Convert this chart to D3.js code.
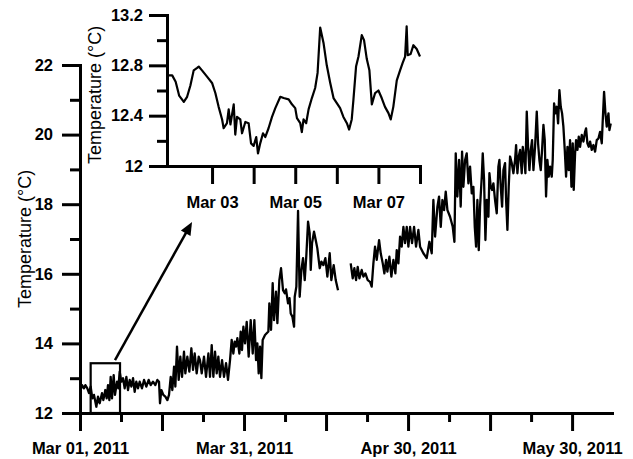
<!DOCTYPE html>
<html>
<head>
<meta charset="utf-8">
<script src="https://cdn.jsdelivr.net/npm/d3@7"></script>
<style>
  html, body { margin: 0; padding: 0; background: #fff; }
  svg { display: block; }
</style>
</head>
<body>
<svg id="chart" width="633" height="459"></svg>
<script>
// Logged water temperature, 1 March to early June 2011.
const startDate = "2011-03-01T00:00:00Z";

// Main record: days since the start and temperature (°C); null marks the logger gap.
const mainDays = [
  0.12, 0.37, 0.73, 0.98, 1.34, 1.65, 1.95, 2.26, 2.56, 2.99,
  3.29, 3.60, 4.02, 4.27, 4.63, 4.88, 5.12, 5.37, 5.61, 5.85,
  6.16, 6.40, 6.77, 7.01, 7.26, 7.56, 7.87, 8.17, 8.48, 8.78,
  9.09, 9.39, 9.70, 10.00, 10.30, 10.61, 10.91, 11.34, 11.71, 12.13,
  12.56, 12.93, 13.35, 13.78, 14.15, 14.45, 14.63, 14.88, 15.24, 15.61,
  15.98, 16.28, 16.59, 16.89, 17.20, 17.44, 17.74, 18.05, 18.35, 18.66,
  19.02, 19.27, 19.63, 20.00, 20.37, 20.67, 20.98, 21.34, 21.71,
  21.95, 22.26, 22.68, 23.05, 23.48, 23.78, 24.09, 24.39, 24.70, 25.00,
  25.30, 25.61, 25.98, 26.34, 26.71, 27.07, 27.44, 27.74, 28.05, 28.29,
  28.54, 28.78, 29.15, 29.39, 29.63, 29.88, 30.18, 30.49, 30.85, 31.22,
  31.59, 31.89, 32.20, 32.44, 32.68, 32.93, 33.17, 33.41, 33.84, 34.45,
  34.63, 34.94, 35.24, 35.49, 35.85, 36.10, 36.46, 36.77, 37.13, 37.45,
  37.68, 38.05, 38.32, 38.54, 38.84, 39.15, 39.27, 39.57, 39.88, 40.18,
  40.49, 40.79, 41.10, 41.40, 41.71, 42.01, 42.20, 42.44, 42.80, 43.11,
  43.41, 43.84, 44.15, 44.51, 44.88, 45.24, 45.67, 45.97, 46.40, 46.77,
  47.19,
  48.30,
  49.51, 49.88, 50.18, 50.49, 50.79, 51.10, 51.52, 51.83, 52.20, 52.62,
  53.05, 53.35, 53.66, 53.96, 54.27, 54.70, 55.00, 55.37, 55.67, 55.98,
  56.22, 56.59, 56.95, 57.32, 57.68, 57.93, 58.23, 58.54, 58.84, 59.15,
  59.45, 59.76, 60.06, 60.37, 60.73, 61.10, 61.46, 61.89,
  62.20, 62.80, 63.41, 63.90, 64.33, 64.63, 64.94, 65.37, 65.67, 65.98,
  66.28, 66.59, 66.89, 67.20, 67.68, 68.17, 68.48, 68.72, 69.02, 69.33,
  69.63, 69.88, 70.12, 70.43, 70.73, 71.04, 71.34, 71.65, 71.95, 72.20,
  72.44, 72.68, 72.93, 73.17, 73.48, 73.66, 73.90, 74.15, 74.39, 74.70,
  74.88, 75.12, 75.37, 75.61, 75.91, 76.22, 76.52, 76.71, 76.95, 77.20,
  77.44, 77.74, 77.93, 78.17, 78.41, 78.66, 78.96, 79.27, 79.57, 79.76,
  80.00, 80.24, 80.49, 80.79, 80.98, 81.22, 81.46, 81.71, 81.95, 82.20,
  82.44, 82.68, 82.93, 83.23, 83.54, 83.78, 84.02, 84.27, 84.51, 84.76,
  85.00, 85.24, 85.49, 85.73, 85.98, 86.28, 86.46, 86.71, 86.95, 87.20,
  87.44, 87.68, 87.93, 88.17, 88.41, 88.66, 88.90, 89.15, 89.39, 89.63,
  89.88, 90.12, 90.30, 90.55, 90.73, 90.98, 91.22, 91.46, 91.77, 92.07,
  92.38, 92.56, 92.80, 93.05, 93.29, 93.60, 93.90, 94.21, 94.51, 94.82,
  95.12, 95.43, 95.61, 95.85, 96.10, 96.34, 96.65, 96.83, 97.07
];
const mainTemps = [
  12.66, 12.80, 12.71, 12.80, 12.71, 12.57, 12.76, 12.42, 12.52, 12.18,
  12.47, 12.28, 12.57, 12.37, 12.66, 12.42, 12.80, 12.37, 13.04, 12.42,
  13.09, 12.52, 12.90, 12.71, 13.19, 12.90, 13.00, 12.71, 13.04, 12.66,
  12.95, 12.76, 13.00, 12.61, 12.90, 12.71, 12.90, 12.71, 12.95, 12.76,
  12.95, 12.80, 12.90, 12.80, 12.95, 12.90, 12.28, 12.66, 12.52, 12.47,
  12.37, 12.52, 13.04, 12.66, 13.33, 12.76, 13.91, 12.95, 13.62, 13.04,
  13.76, 13.14, 13.62, 13.19, 13.86, 13.24, 13.71, 13.14, 13.62,
  13.52, 13.14, 13.62, 13.04, 13.71, 13.04, 13.95, 13.04, 13.76, 13.14,
  13.62, 13.04, 13.52, 13.04, 13.43, 12.95, 13.52, 14.10, 13.71, 14.05,
  13.91, 14.15, 13.71, 14.34, 13.81, 14.48, 14.00, 14.62, 13.62, 14.67,
  13.71, 14.67, 13.52, 14.00, 13.14, 13.91, 13.00, 14.10, 14.24, 14.34,
  15.15, 14.39, 15.73, 14.67, 15.49, 14.58, 15.82, 16.16, 15.53, 15.44,
  15.55, 15.15, 15.30, 14.86, 14.77, 14.48, 15.34, 15.63, 17.81, 15.34,
  16.11, 16.45, 15.82, 16.54, 17.50, 17.16, 16.11, 16.88, 17.21, 16.97,
  16.73, 16.16, 16.35, 16.25, 16.45, 15.92, 16.59, 15.82, 16.25, 15.82,
  15.53,
  null,
  16.30, 15.87, 16.16, 15.82, 16.20, 15.87, 16.11, 15.92, 16.01, 15.82,
  15.77, 15.63, 16.30, 16.78, 16.40, 16.97, 16.59, 16.30, 16.01, 16.40,
  16.06, 16.49, 15.92, 16.40, 16.01, 16.68, 16.30, 17.07, 16.78, 17.35,
  16.88, 17.35, 16.78, 17.35, 16.88, 17.35, 16.78, 17.26,
  16.78, 16.59, 16.45, 16.92, 16.59, 18.12, 17.07, 17.93, 18.22, 17.35,
  18.12, 17.83, 18.36, 17.83, 17.64, 17.35, 16.92, 19.46, 18.22, 19.27,
  17.93, 19.51, 18.50, 19.27, 19.46, 18.60, 19.08, 18.31, 18.50, 17.35,
  16.78, 18.12, 16.68, 17.93, 18.79, 19.46, 18.70, 16.97, 18.12, 17.64,
  18.89, 18.50, 18.41, 18.60, 18.12, 17.74, 19.08, 19.27, 18.50, 17.93,
  18.98, 19.18, 18.12, 17.26, 18.50, 19.37, 19.18, 18.89, 19.27, 19.70,
  18.89, 19.37, 19.56, 18.89, 19.65, 19.37, 18.89, 20.66, 19.65, 18.98,
  19.56, 19.84, 18.98, 19.65, 20.66, 19.75, 19.27, 18.98, 19.56, 20.28,
  19.84, 18.22, 19.27, 18.79, 19.08, 18.79, 19.27, 20.90, 20.61, 20.80,
  20.32, 21.28, 20.80, 20.61, 20.23, 19.56, 18.79, 19.65, 18.98, 19.84,
  18.50, 19.75, 18.41, 19.46, 19.84, 19.56, 19.94, 19.65, 19.99, 19.80,
  20.08, 20.18, 19.75, 19.65, 19.80, 19.56, 19.70, 19.51, 19.84, 19.89,
  20.08, 19.75, 20.42, 21.23, 20.61, 20.23, 20.61, 20.13, 20.32
];

// Close-up of the first week: hours since the start and temperature (°C).
const insetHours = [
  22.0, 25.0, 27.0, 29.0, 31.7, 33.6, 35.5, 37.4, 39.4, 40.3,
  42.2, 45.1, 48.0, 49.9, 51.8, 53.8, 54.7, 56.6, 57.6, 58.6,
  60.5, 61.4, 62.4, 64.3, 65.3, 67.2, 69.1, 70.5, 72.0, 73.5,
  74.5, 75.8, 77.4, 78.7, 80.6, 82.6, 84.5, 87.4, 89.3, 92.2,
  94.1, 96.0, 97.0, 98.9, 99.8, 100.8, 102.3, 103.7, 105.6, 107.5,
  108.9, 110.4, 112.3, 114.2, 116.2, 118.1, 120.0, 121.9, 123.8, 125.8,
  127.1, 128.6, 129.6, 131.1, 132.5, 134.4, 135.7, 137.3, 138.8, 140.2,
  142.1, 144.0, 145.9, 147.8, 149.8, 151.1, 152.6, 154.6, 156.5, 158.0,
  159.4, 160.3, 160.9, 162.6, 164.2, 166.1, 168.0
];
const insetTemps = [
  12.72, 12.72, 12.67, 12.56, 12.51, 12.55, 12.64, 12.76, 12.78, 12.79,
  12.76, 12.71, 12.66, 12.58, 12.47, 12.37, 12.30, 12.34, 12.45, 12.33,
  12.49, 12.25, 12.39, 12.37, 12.26, 12.35, 12.34, 12.18, 12.16, 12.23,
  12.10, 12.18, 12.26, 12.23, 12.30, 12.39, 12.46, 12.55, 12.54, 12.53,
  12.49, 12.46, 12.38, 12.34, 12.27, 12.37, 12.34, 12.45, 12.54, 12.62,
  12.74, 13.10, 12.98, 12.80, 12.66, 12.54, 12.50, 12.46, 12.39, 12.34,
  12.29, 12.37, 12.53, 12.79, 12.87, 13.04, 13.00, 12.85, 12.76, 12.49,
  12.58, 12.60, 12.54, 12.47, 12.42, 12.37, 12.47, 12.68, 12.76, 12.82,
  12.87, 13.11, 12.88, 12.89, 12.96, 12.93, 12.87
];

// Axis ticks
const mainYTicks = [12, 14, 16, 18, 20, 22];
const mainYMinorTicks = [13, 15, 17, 19, 21];
const mainXTickDays = [0, 15, 30, 45, 60, 75, 90];
const mainXMinorDays = [7.5, 22.5, 37.5, 52.5, 67.5, 82.5];
const mainXLabelDays = [0, 30, 60, 90];
const mainXEndDay = 97.3;
const insetYTicks = [12, 12.4, 12.8, 13.2];
const insetYMinorTicks = [12.2, 12.6, 13.0];
const insetXTickHours = [48, 72, 96, 120, 144, 168];
const insetXLabelHours = [48, 96, 144];
const insetHourRange = [22, 168];

// Box marking the close-up period and the pointer to the inset (data units of the main chart)
const zoomBox = { fromDay: 1.95, toDay: 7.32, low: 12, high: 13.43 };
const pointer = { fromDay: 6.4, fromTemp: 13.52, toDay: 20.49, toTemp: 17.49 };

const FONT = "'Liberation Sans', Arial, Helvetica, sans-serif";
const DAY = 864e5, HOUR = 36e5;
const t0 = Date.parse(startDate);
const atDay = d => new Date(t0 + d * DAY);
const atHour = h => new Date(t0 + h * HOUR);

const svg = d3.select("#chart");

// ---------- main chart ----------
const x = d3.scaleUtc().domain([atDay(0), atDay(mainXEndDay)]).range([80, 612]);
const y = d3.scaleLinear().domain([12, 22]).range([413, 65]);

function styleAxis(g, keepDomain) {
  g.attr("font-size", null).attr("font-family", null);
  g.selectAll("line").attr("stroke", "#000").attr("stroke-width", 3);
  if (keepDomain) {
    g.select(".domain").attr("stroke", "#000").attr("stroke-width", 3)
      .attr("stroke-linecap", "square");
  } else {
    g.select(".domain").remove();
  }
  g.selectAll("text").attr("fill", "#000")
    .style("font-family", FONT).style("font-size", "16.5px").style("font-weight", "bold");
}

const labelDaySet = new Set(mainXLabelDays);
const fmtMain = d3.utcFormat("%b %d, %Y");

svg.append("g").attr("transform", "translate(0,413)")
  .call(d3.axisBottom(x)
    .tickValues(mainXTickDays.map(atDay))
    .tickSize(18).tickSizeOuter(0).tickPadding(11)
    .tickFormat((d, i) => labelDaySet.has(mainXTickDays[i]) ? fmtMain(d) : ""))
  .call(g => styleAxis(g, true));

svg.append("g").attr("transform", "translate(0,413)")
  .call(d3.axisBottom(x).tickValues(mainXMinorDays.map(atDay)).tickSize(9).tickFormat(""))
  .call(g => styleAxis(g, false));

svg.append("g").attr("transform", "translate(80,0)")
  .call(d3.axisLeft(y).tickValues(mainYTicks).tickSize(18).tickSizeOuter(0)
    .tickPadding(9).tickFormat(d3.format("d")))
  .call(g => styleAxis(g, true));

svg.append("g").attr("transform", "translate(80,0)")
  .call(d3.axisLeft(y).tickValues(mainYMinorTicks).tickSize(10).tickFormat(""))
  .call(g => styleAxis(g, false));

svg.append("text")
  .attr("transform", "translate(31,239) rotate(-90)")
  .attr("text-anchor", "middle")
  .style("font-family", FONT).style("font-size", "18px")
  .text("Temperature (°C)");

const n = Math.min(mainDays.length, mainTemps.length);
const mainData = d3.range(n).map(i => ({ date: atDay(mainDays[i]), temp: mainTemps[i] }));

svg.append("path")
  .datum(mainData)
  .attr("fill", "none").attr("stroke", "#000").attr("stroke-width", 2.3)
  .attr("stroke-linejoin", "round")
  .attr("d", d3.line().defined(d => d.temp != null)
    .x(d => x(d.date)).y(d => y(d.temp)));

// box around the close-up period
svg.append("rect")
  .attr("x", x(atDay(zoomBox.fromDay)))
  .attr("y", y(zoomBox.high))
  .attr("width", x(atDay(zoomBox.toDay)) - x(atDay(zoomBox.fromDay)))
  .attr("height", y(zoomBox.low) - y(zoomBox.high))
  .attr("fill", "none").attr("stroke", "#000").attr("stroke-width", 2.2);

// pointer arrow
{
  const x0 = x(atDay(pointer.fromDay)), y0 = y(pointer.fromTemp);
  const x1 = x(atDay(pointer.toDay)), y1 = y(pointer.toTemp);
  const len = Math.hypot(x1 - x0, y1 - y0);
  const ux = (x1 - x0) / len, uy = (y1 - y0) / len;
  const head = 13, half = 5.5;
  const bx = x1 - ux * head, by = y1 - uy * head;
  svg.append("line")
    .attr("x1", x0).attr("y1", y0).attr("x2", bx + ux * 2).attr("y2", by + uy * 2)
    .attr("stroke", "#000").attr("stroke-width", 2.5);
  svg.append("path")
    .attr("d", `M${x1},${y1}L${bx - uy * half},${by + ux * half}L${bx + uy * half},${by - ux * half}Z`)
    .attr("fill", "#000");
}

// ---------- inset ----------
const xi = d3.scaleUtc().domain(insetHourRange.map(atHour)).range([167, 420]);
const yi = d3.scaleLinear().domain([12, 13.2]).range([166, 15]);

const insetLabelSet = new Set(insetXLabelHours);
const fmtInset = d3.utcFormat("%b %d");

svg.append("g").attr("transform", "translate(0,166)")
  .call(d3.axisBottom(xi)
    .tickValues(insetXTickHours.map(atHour))
    .tickSize(18).tickSizeOuter(0).tickPadding(12)
    .tickFormat((d, i) => insetLabelSet.has(insetXTickHours[i]) ? fmtInset(d) : ""))
  .call(g => styleAxis(g, true));

svg.append("g").attr("transform", "translate(167,0)")
  .call(d3.axisLeft(yi).tickValues(insetYTicks).tickSize(18).tickSizeOuter(0)
    .tickPadding(6).tickFormat(d3.format("~f")))
  .call(g => styleAxis(g, true));

svg.append("g").attr("transform", "translate(167,0)")
  .call(d3.axisLeft(yi).tickValues(insetYMinorTicks).tickSize(10).tickFormat(""))
  .call(g => styleAxis(g, false));

svg.append("text")
  .attr("transform", "translate(101,95) rotate(-90)")
  .attr("text-anchor", "middle")
  .style("font-family", FONT).style("font-size", "18px")
  .text("Temperature (°C)");

const m = Math.min(insetHours.length, insetTemps.length);
const insetData = d3.range(m).map(i => ({ date: atHour(insetHours[i]), temp: insetTemps[i] }));

svg.append("path")
  .datum(insetData)
  .attr("fill", "none").attr("stroke", "#000").attr("stroke-width", 2.2)
  .attr("stroke-linejoin", "round")
  .attr("d", d3.line().x(d => xi(d.date)).y(d => yi(d.temp)));
</script>
</body>
</html>
